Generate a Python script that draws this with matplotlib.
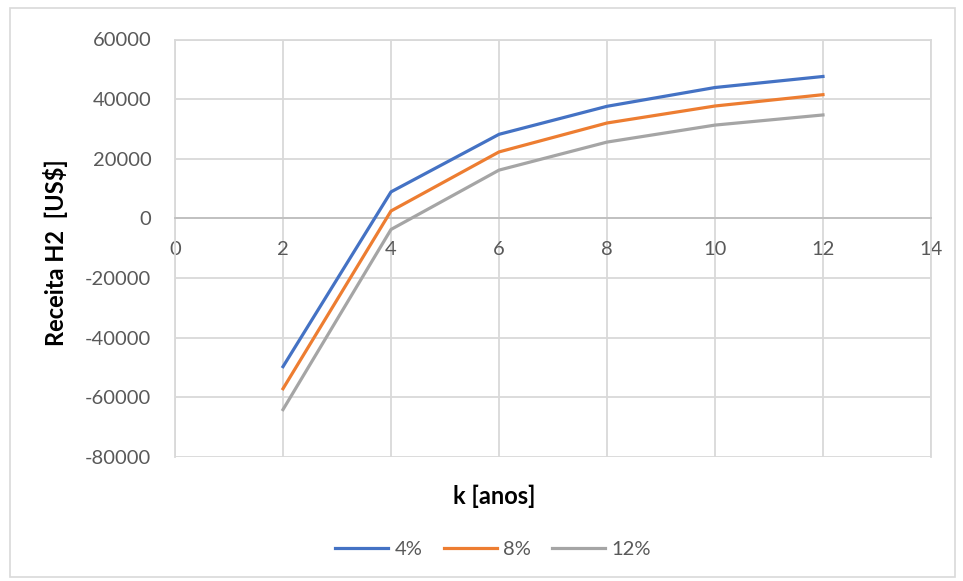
import matplotlib.pyplot as plt
from matplotlib.patches import Rectangle

# Receita H2 por ano k, para cada taxa de desconto
k_anos = [2, 4, 6, 8, 10, 12]
receita_4 = [-49700, 8900, 28200, 37600, 43900, 47600]
receita_8 = [-57100, 2500, 22300, 32000, 37700, 41500]
receita_12 = [-64100, -3700, 16200, 25600, 31300, 34700]
series_labels = ["4%", "8%", "12%"]
series_colors = ["#4472C4", "#ED7D31", "#A5A5A5"]

x_ticks = [0, 2, 4, 6, 8, 10, 12, 14]
y_ticks = [-80000, -60000, -40000, -20000, 0, 20000, 40000, 60000]

plt.rcParams["font.family"] = ["Lato", "DejaVu Sans"]
plt.rcParams["axes.unicode_minus"] = False
label_gray = "#595959"
grid_gray = "#D9D9D9"

fig = plt.figure(figsize=(9.63, 5.81), dpi=100)
ax = fig.add_axes([175 / 963, 1 - 457 / 581, 756 / 963, 417.5 / 581])

# outer chart border
fig.patches.append(Rectangle((10 / 963, 4 / 581), 945 / 963, 569 / 581,
                             transform=fig.transFigure, fill=False,
                             edgecolor="#D9D9D9", linewidth=1.2))

for y, lab, col in zip([receita_4, receita_8, receita_12], series_labels, series_colors):
    ax.plot(k_anos, y, color=col, linewidth=2.3, label=lab, zorder=3)

ax.set_xlim(0, 14)
ax.set_ylim(-80000, 60000)
ax.set_xticks(x_ticks)
ax.set_yticks(y_ticks)
ax.grid(True, color=grid_gray, linewidth=1.3, zorder=0)

for side in ["top", "right", "left"]:
    ax.spines[side].set_color(grid_gray)
    ax.spines[side].set_linewidth(1.3)
ax.spines["bottom"].set_position(("data", 0))
ax.spines["bottom"].set_color("#BFBFBF")
ax.spines["bottom"].set_linewidth(1.3)

ax.tick_params(axis="both", length=0, labelsize=14.5, labelcolor=label_gray)
ax.tick_params(axis="x", pad=16)
ax.tick_params(axis="y", pad=17)

fig.text(55 / 963, 1 - 253 / 581, "Receita H2  [US$]", rotation=90,
         ha="center", va="center", fontsize=17, fontweight="bold")
fig.text(494 / 963, 1 - 496 / 581, "k [anos]", ha="center", va="center",
         fontsize=17, fontweight="bold")

leg = fig.legend(loc="center", bbox_to_anchor=(493 / 963, 1 - 549 / 581),
                 ncol=3, frameon=False, fontsize=14.5, handlelength=2.65,
                 handletextpad=0.3, columnspacing=1.05)
for t in leg.get_texts():
    t.set_color(label_gray)

fig.savefig("out.png", dpi=100)
